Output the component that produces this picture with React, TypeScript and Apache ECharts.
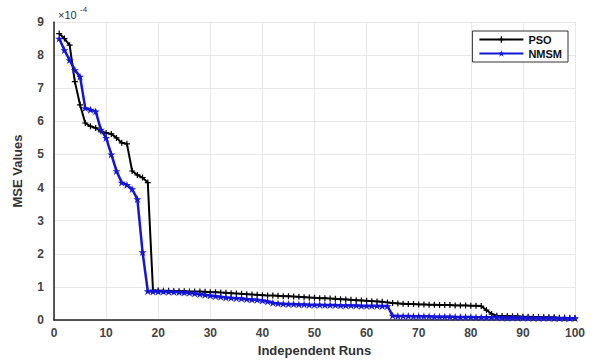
import React, { useEffect, useRef } from "react";
import * as echarts from "echarts";

const psoValues = [
  8.65, 8.5, 8.3, 7.2, 6.5, 5.95, 5.85, 5.8, 5.7, 5.65,
  5.62, 5.5, 5.35, 5.32, 4.5, 4.38, 4.3, 4.15, 0.9, 0.89,
  0.88, 0.88, 0.87, 0.87, 0.87, 0.86, 0.86, 0.86, 0.85, 0.84,
  0.84, 0.83, 0.82, 0.81, 0.8, 0.79, 0.78, 0.77, 0.76, 0.75,
  0.74, 0.74, 0.73, 0.72, 0.72, 0.71, 0.7, 0.69, 0.68, 0.67,
  0.66, 0.66, 0.65, 0.64, 0.63, 0.62, 0.61, 0.6, 0.59, 0.58,
  0.57, 0.56, 0.55, 0.53, 0.51, 0.5, 0.49, 0.48, 0.48, 0.47,
  0.47, 0.46, 0.46, 0.45, 0.45, 0.45, 0.44, 0.44, 0.44, 0.43,
  0.43, 0.42, 0.3, 0.18, 0.13, 0.12, 0.12, 0.11, 0.11, 0.1,
  0.1, 0.09, 0.09, 0.08, 0.08, 0.08, 0.07, 0.07, 0.06, 0.06,
];

const nmsmValues = [
  8.5, 8.15, 7.85, 7.55, 7.35, 6.4, 6.35, 6.3, 5.75, 5.5,
  5.0, 4.5, 4.15, 4.08, 3.95, 3.65, 2.05, 0.87, 0.86, 0.86,
  0.86, 0.85, 0.85, 0.84, 0.83, 0.82, 0.8, 0.78, 0.76, 0.74,
  0.72, 0.7, 0.68, 0.67, 0.66, 0.65, 0.63, 0.62, 0.61, 0.59,
  0.56, 0.52, 0.5, 0.49, 0.48, 0.48, 0.47, 0.47, 0.46, 0.46,
  0.46, 0.45, 0.45, 0.45, 0.44, 0.44, 0.44, 0.44, 0.43, 0.43,
  0.43, 0.43, 0.42, 0.42, 0.13, 0.12, 0.12, 0.12, 0.11, 0.11,
  0.11, 0.11, 0.1, 0.1, 0.1, 0.1, 0.09, 0.09, 0.09, 0.09,
  0.08, 0.08, 0.08, 0.08, 0.08, 0.07, 0.07, 0.07, 0.07, 0.07,
  0.06, 0.06, 0.06, 0.06, 0.06, 0.05, 0.05, 0.05, 0.05, 0.05,
];

const seriesNames = ["PSO", "NMSM"];
const yAxisTitle = "MSE Values";
const xAxisTitle = "Independent Runs";

const STAR = "path://M12,0 L15,9 L24,9 L17,14 L20,23 L12,17 L4,23 L7,14 L0,9 L9,9 Z";
const PLUS = "path://M4,0 L6,0 L6,4 L10,4 L10,6 L6,6 L6,10 L4,10 L4,6 L0,6 L0,4 L4,4 Z";

export default function App() {
  const ref = useRef<HTMLDivElement>(null);
  useEffect(() => {
    if (!ref.current) return;
    const chart = echarts.init(ref.current, null, { renderer: "svg" });
    const toPoints = (arr: number[]) => arr.map((v, i) => [i + 1, v]);
    const font = "Liberation Sans, Arial, sans-serif";
    chart.setOption({
      animation: false,
      backgroundColor: "#ffffff",
      grid: { left: 54, right: 27, top: 22, bottom: 43, containLabel: false },
      legend: {
        data: seriesNames,
        orient: "vertical",
        right: 34,
        top: 31,
        itemWidth: 44,
        itemHeight: 8,
        itemGap: 3,
        padding: [3, 6, 3, 6],
        borderColor: "#333",
        borderWidth: 1,
        backgroundColor: "#fff",
        textStyle: { fontFamily: font, fontWeight: "bold", fontSize: 11, color: "#111" },
      },
      xAxis: {
        type: "value",
        min: 0,
        max: 100,
        interval: 10,
        name: xAxisTitle,
        nameLocation: "middle",
        nameGap: 24,
        nameTextStyle: { fontFamily: font, fontWeight: "bold", fontSize: 13, color: "#333" },
        axisLine: { lineStyle: { color: "#222", width: 1.5 } },
        axisTick: { show: false },
        axisLabel: { fontFamily: font, fontWeight: "bold", fontSize: 12, color: "#444", margin: 7 },
        splitLine: { show: true, lineStyle: { color: "#e8e8e8", width: 1 } },
      },
      yAxis: {
        type: "value",
        min: 0,
        max: 9,
        interval: 1,
        name: yAxisTitle,
        nameLocation: "middle",
        nameGap: 30,
        nameRotate: 90,
        nameTextStyle: { fontFamily: font, fontWeight: "bold", fontSize: 13, color: "#333" },
        axisLine: { show: true, lineStyle: { color: "#222", width: 1.5 } },
        axisTick: { show: false },
        axisLabel: { fontFamily: font, fontWeight: "bold", fontSize: 12, color: "#444", margin: 10 },
        splitLine: { show: true, lineStyle: { color: "#e8e8e8", width: 1 } },
      },
      graphic: [
        {
          type: "text",
          left: 58,
          top: 9,
          style: { text: "×10", fontFamily: font, fontSize: 11, fill: "#333" },
        },
        {
          type: "text",
          left: 80,
          top: 5,
          style: { text: "-4", fontFamily: font, fontSize: 8, fill: "#333" },
        },
      ],
      series: [
        {
          name: seriesNames[0],
          type: "line",
          data: toPoints(psoValues),
          symbol: PLUS,
          symbolSize: 6,
          showAllSymbol: true,
          lineStyle: { color: "#000", width: 2 },
          itemStyle: { color: "#000" },
          z: 3,
        },
        {
          name: seriesNames[1],
          type: "line",
          data: toPoints(nmsmValues),
          symbol: STAR,
          symbolSize: 8,
          showAllSymbol: true,
          lineStyle: { color: "#1515d8", width: 2.5 },
          itemStyle: { color: "#1515d8" },
          z: 4,
        },
      ],
    });
    return () => chart.dispose();
  }, []);
  return <div ref={ref} style={{ width: 602, height: 363, position: "absolute", left: 0, top: 0 }} />;
}
